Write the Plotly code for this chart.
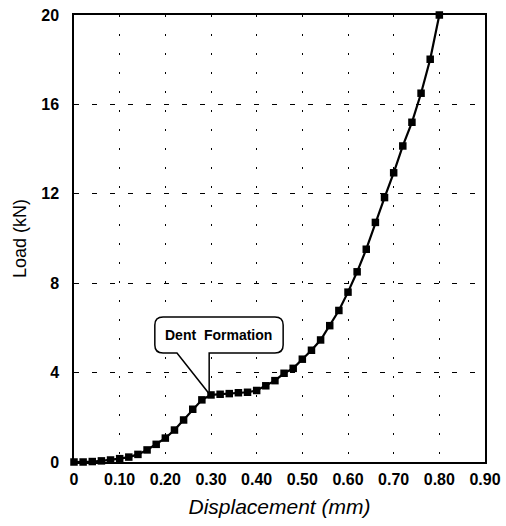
import plotly.graph_objects as go

displacement = [0.00, 0.02, 0.04, 0.06, 0.08, 0.10, 0.12, 0.14, 0.16, 0.18,
                0.20, 0.22, 0.24, 0.26, 0.28, 0.30, 0.32, 0.34, 0.36, 0.38,
                0.40, 0.42, 0.44, 0.46, 0.48, 0.50, 0.52, 0.54, 0.56, 0.58,
                0.60, 0.62, 0.64, 0.66, 0.68, 0.70, 0.72, 0.74, 0.76, 0.78, 0.80]
load_kn = [0.00, 0.00, 0.02, 0.05, 0.09, 0.15, 0.22, 0.34, 0.54, 0.79,
           1.07, 1.43, 1.88, 2.36, 2.78, 3.00, 3.03, 3.06, 3.10, 3.12,
           3.20, 3.41, 3.64, 3.97, 4.19, 4.60, 5.00, 5.46, 6.10, 6.78,
           7.60, 8.51, 9.52, 10.72, 11.83, 12.94, 14.14, 15.20, 16.50, 18.02, 20.00]

x_ticks = [0, 0.1, 0.2, 0.3, 0.4, 0.5, 0.6, 0.7, 0.8, 0.9]
x_tick_labels = ["0", "0.10", "0.20", "0.30", "0.40", "0.50", "0.60", "0.70", "0.80", "0.90"]
y_ticks = [0, 4, 8, 12, 16, 20]
y_tick_labels = ["0", "4", "8", "12", "16", "20"]
annotation_text = "Dent\u00a0 Formation"
annotation_point = (0.296, 3.0)

FONT = "Arial, Liberation Sans, sans-serif"

fig = go.Figure()
fig.add_trace(go.Scatter(
    x=displacement, y=load_kn, mode="lines+markers",
    line=dict(color="black", width=2.2),
    marker=dict(symbol="square", size=7.5, color="black"),
    cliponaxis=False, showlegend=False,
))

# callout outline
bl, br, bt, bb = 0.177, 0.458, 6.49, 4.88
rx, ry = 0.018, 0.36
tx, ty = annotation_point
path = (f"M {bl+rx},{bt} L {br-rx},{bt} Q {br},{bt} {br},{bt-ry} "
        f"L {br},{bb+ry} Q {br},{bb} {br-rx},{bb} L {tx},{bb} L {tx},{ty+0.05} "
        f"L 0.2255,{bb} L {bl+rx},{bb} Q {bl},{bb} {bl},{bb+ry} "
        f"L {bl},{bt-ry} Q {bl},{bt} {bl+rx},{bt} Z")
fig.add_shape(type="path", path=path, xref="x", yref="y",
              line=dict(color="black", width=1.5), fillcolor="white", layer="above")
fig.add_annotation(x=(bl + br) / 2, y=(bt + bb) / 2, text=f"<b>{annotation_text}</b>",
                   showarrow=False, font=dict(family=FONT, size=14, color="black"))

fig.update_layout(
    width=506, height=526,
    margin=dict(l=74, r=21, t=15, b=64),
    paper_bgcolor="white", plot_bgcolor="white",
    font=dict(family=FONT, color="black"),
    xaxis=dict(
        range=[0, 0.9], tickvals=x_ticks, ticktext=[f"<b>{t}</b>" for t in x_tick_labels],
        tickfont=dict(size=16), showline=True, mirror=True, linecolor="black", linewidth=1.5,
        showgrid=True, gridcolor="black", gridwidth=1, griddash="2px,17px",
        zeroline=False, ticks="outside", ticklen=2, tickcolor="rgba(0,0,0,0)",
        automargin=False, ticklabeloverflow="allow",
        title=dict(text="<i>Displacement (mm)</i>", font=dict(size=21), standoff=12),
    ),
    yaxis=dict(
        range=[0, 20], tickvals=y_ticks, ticktext=[f"<b>{t}</b>" for t in y_tick_labels],
        tickfont=dict(size=16), showline=True, mirror=True, linecolor="black", linewidth=1.5,
        showgrid=True, gridcolor="black", gridwidth=1, griddash="5px,13px",
        zeroline=False, ticks="outside", ticklen=10, tickcolor="rgba(0,0,0,0)",
        automargin=False, ticklabeloverflow="allow",
        title=dict(text="Load (kN)", font=dict(size=18), standoff=10),
    ),
)

fig.write_html("out.html", config={"displayModeBar": False},
               post_script="document.body.style.margin='0';document.body.style.overflow='hidden';")
